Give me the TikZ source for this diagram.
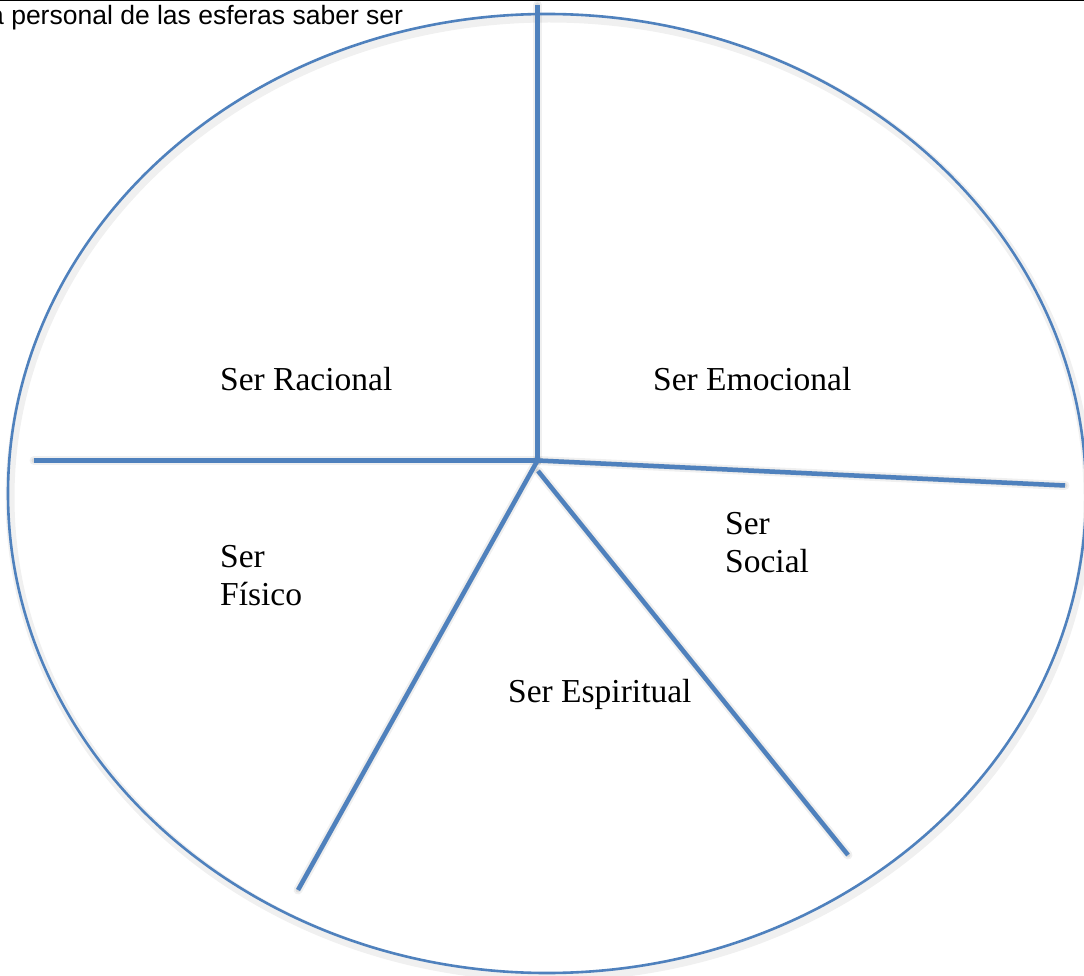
\documentclass[tikz,border=0pt]{standalone}
\usepackage{fontspec}
\setmainfont{Liberation Serif}
\newfontfamily\hdrfont{Liberation Sans}
\begin{document}
\begin{tikzpicture}[x=1pt,y=-1pt,
  blueln/.style={draw=spoke, line width=4.5pt},
  ovalln/.style={draw=spoke, line width=2.6pt},
  shade/.style={draw=black, line width=9pt, opacity=0.06, line cap=round},
  shadein/.style={draw=black, line width=5pt, opacity=0.08, line cap=round},
  lbl/.style={inner sep=0pt, anchor=base west, align=left, font=\fontsize{33.5}{38}\selectfont},
  hdr/.style={inner sep=0pt, anchor=base west, font=\hdrfont\fontsize{26.5}{30}\selectfont}]
\definecolor{spoke}{RGB}{79,129,189}
\useasboundingbox (0,0) rectangle (1084,976);
\clip (0,0) rectangle (1084,976);
\fill[white] (0,0) rectangle (1084,976);
% header
\draw[black, line width=1.5pt] (0,0.75) -- (1084,0.75);
\node[hdr] (title) at (-11,24.5) {a personal de las esferas saber ser};
% coordinates
\coordinate (c) at (537.5,460.5);
\coordinate (top) at (537.5,5);
\coordinate (left) at (34,460.5);
\coordinate (right) at (1065,485.5);
\coordinate (ll) at (298,890);
\coordinate (lrs) at (538,471);
\coordinate (lr) at (848,855);
% shadows
\begin{scope}[shift={(2,4)}]
  \draw[shade] (547,493.5) ellipse [x radius=539, y radius=479.5];
  \foreach \p in {top,left,right,ll}{ \draw[shade] (c) -- (\p); \draw[shadein] (c) -- (\p); }
  \draw[shade] (lrs) -- (lr); \draw[shadein] (lrs) -- (lr);
\end{scope}
% oval
\draw[ovalln] (547,493.5) ellipse [x radius=539, y radius=479.5];
% spokes
\draw[blueln] (c) -- (top);
\draw[blueln] (c) -- (left);
\draw[blueln] (c) -- (right);
\draw[blueln] (c) -- (ll);
\draw[blueln] (lrs) -- (lr);
% labels
\node[lbl] (racional) at (220,390) {Ser Racional};
\node[lbl] (emocional) at (653,390) {Ser Emocional};
\node[lbl] (social) at (725,572) {Ser\\Social};
\node[lbl] (fisico) at (220,605) {Ser\\Físico};
\node[lbl] (espiritual) at (508,702) {Ser Espiritual};
\end{tikzpicture}
\end{document}
